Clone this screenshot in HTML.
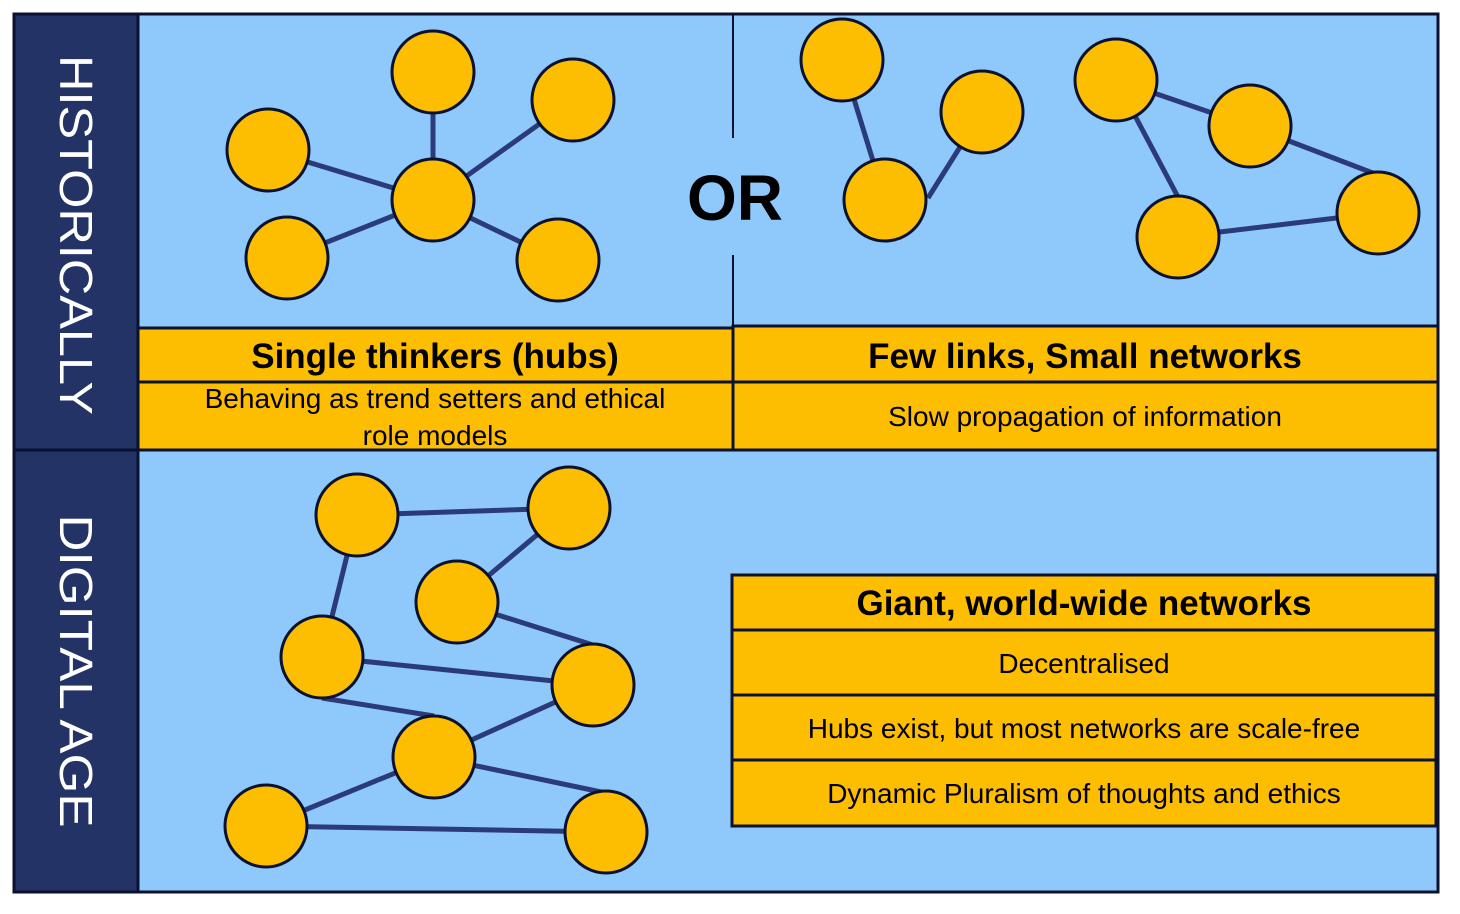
<!DOCTYPE html>
<html><head><meta charset="utf-8"><style>html,body{margin:0;padding:0;background:#fff;width:1460px;height:914px;overflow:hidden}</style></head>
<body>
<svg width="1460" height="914" xmlns="http://www.w3.org/2000/svg" font-family="Liberation Sans, sans-serif">
<rect x="14" y="14" width="1424" height="878" fill="#8fc8fb" stroke="#0a1230" stroke-width="3"/>
<rect x="14" y="14" width="124" height="436" fill="#233366" stroke="#0a1230" stroke-width="3"/>
<rect x="14" y="450" width="124" height="442" fill="#233366" stroke="#0a1230" stroke-width="3"/>
<line x1="138" y1="450" x2="1438" y2="450" stroke="#0a1230" stroke-width="3"/>
<text transform="translate(60,235) rotate(90)" text-anchor="middle" fill="#fff" font-size="46" textLength="360" lengthAdjust="spacingAndGlyphs">HISTORICALLY</text>
<text transform="translate(60,671) rotate(90)" text-anchor="middle" fill="#fff" font-size="46" textLength="313" lengthAdjust="spacingAndGlyphs">DIGITAL AGE</text>
<line x1="733" y1="14" x2="733" y2="138" stroke="#0a1230" stroke-width="2"/>
<line x1="733" y1="255" x2="733" y2="327" stroke="#0a1230" stroke-width="2"/>
<text x="735" y="220" text-anchor="middle" font-size="64" font-weight="bold" fill="#000">OR</text>
<g stroke="#2b3a78" stroke-width="5">
<line x1="433" y1="200" x2="433" y2="72"/><line x1="433" y1="200" x2="573" y2="100"/><line x1="433" y1="200" x2="268" y2="150"/><line x1="433" y1="200" x2="287" y2="258"/><line x1="433" y1="200" x2="558" y2="260"/>
<line x1="842" y1="60" x2="885" y2="200"/><line x1="982" y1="112" x2="928" y2="198"/>
<line x1="1116" y1="80" x2="1250" y2="126"/><line x1="1250" y1="126" x2="1378" y2="175"/><line x1="1378" y1="213" x2="1178" y2="237"/><line x1="1116" y1="80" x2="1178" y2="197"/>
<line x1="357" y1="515" x2="569" y2="508"/><line x1="569" y1="508" x2="457" y2="602"/><line x1="357" y1="515" x2="322" y2="657"/><line x1="457" y1="602" x2="593" y2="645"/><line x1="322" y1="657" x2="593" y2="685"/><line x1="322" y1="698" x2="434" y2="716"/><line x1="593" y1="685" x2="434" y2="757"/><line x1="434" y1="757" x2="606" y2="793"/><line x1="434" y1="757" x2="266" y2="826"/><line x1="266" y1="826" x2="606" y2="832"/>
</g>
<g fill="#fdbd00" stroke="#0a1230" stroke-width="3">
<circle cx="433" cy="200" r="41"/><circle cx="433" cy="72" r="41"/><circle cx="573" cy="100" r="41"/><circle cx="268" cy="150" r="41"/><circle cx="287" cy="258" r="41"/><circle cx="558" cy="260" r="41"/>
<circle cx="842" cy="60" r="41"/><circle cx="982" cy="112" r="41"/><circle cx="885" cy="200" r="41"/>
<circle cx="1116" cy="80" r="41"/><circle cx="1250" cy="126" r="41"/><circle cx="1378" cy="213" r="41"/><circle cx="1178" cy="237" r="41"/>
<circle cx="357" cy="515" r="41"/><circle cx="569" cy="508" r="41"/><circle cx="457" cy="602" r="41"/><circle cx="322" cy="657" r="41"/><circle cx="593" cy="685" r="41"/><circle cx="434" cy="757" r="41"/><circle cx="266" cy="826" r="41"/><circle cx="606" cy="832" r="41"/>
</g>
<g fill="#fdbd00" stroke="#0a1230" stroke-width="3">
<rect x="138" y="328" width="595" height="54"/><rect x="138" y="382" width="595" height="68"/>
<rect x="733" y="326" width="705" height="56"/><rect x="733" y="382" width="705" height="68"/>
<rect x="732" y="575" width="704" height="55"/><rect x="732" y="630" width="704" height="65"/><rect x="732" y="695" width="704" height="65"/><rect x="732" y="760" width="704" height="66"/>
</g>
<g fill="#000" text-anchor="middle">
<text x="435" y="368" font-size="35" font-weight="bold">Single thinkers (hubs)</text>
<text x="435" y="408" font-size="28">Behaving as trend setters and ethical</text>
<text x="435" y="445" font-size="28">role models</text>
<text x="1085" y="368" font-size="35" font-weight="bold">Few links, Small networks</text>
<text x="1085" y="426" font-size="28">Slow propagation of information</text>
<text x="1084" y="615" font-size="35" font-weight="bold">Giant, world-wide networks</text>
<text x="1084" y="673" font-size="28">Decentralised</text>
<text x="1084" y="738" font-size="28">Hubs exist, but most networks are scale-free</text>
<text x="1084" y="803" font-size="28">Dynamic Pluralism of thoughts and ethics</text>
</g>
</svg>
</body></html>
